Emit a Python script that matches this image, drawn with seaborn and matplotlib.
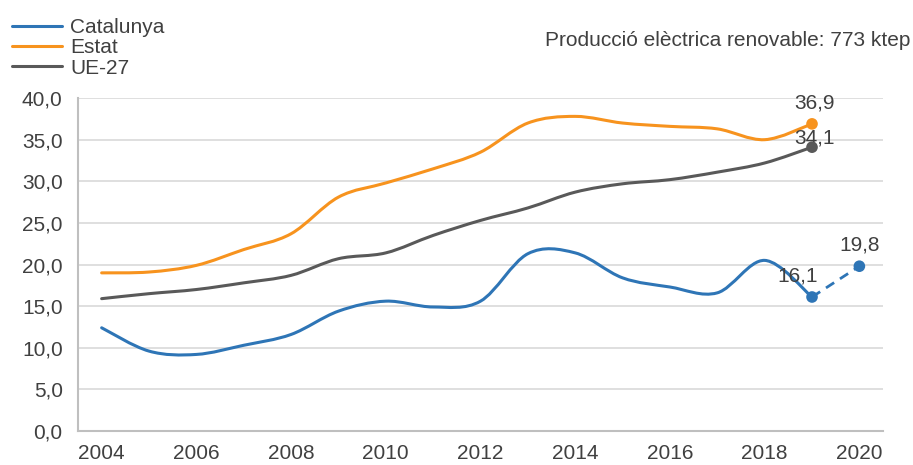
import numpy as np
import pandas as pd
import seaborn as sns
import matplotlib.pyplot as plt
from matplotlib.path import Path
from matplotlib.patches import PathPatch
from matplotlib.lines import Line2D

OUT_PATH = 'out.png'

years = list(range(2004, 2020))
catalunya = [12.4, 9.6, 9.2, 10.3, 11.6, 14.4, 15.6, 14.9, 15.6, 21.3, 21.4, 18.4, 17.3, 16.6, 20.5, 16.1]
estat = [19.0, 19.1, 19.9, 21.8, 23.7, 28.1, 29.8, 31.5, 33.5, 37.0, 37.8, 37.0, 36.6, 36.3, 35.0, 36.9]
ue27 = [15.9, 16.5, 17.0, 17.8, 18.7, 20.7, 21.4, 23.5, 25.3, 26.8, 28.7, 29.7, 30.2, 31.1, 32.2, 34.1]
cat_proj_years = [2019, 2020]
cat_proj = [16.1, 19.8]

series_names = ['Catalunya', 'Estat', 'UE-27']
colors = {'Catalunya': '#2E75B6', 'Estat': '#F7931E', 'UE-27': '#595959'}
subtitle = 'Producció elèctrica renovable: 773 ktep'

TEXT = '#404040'
FS = 15


def smooth_path(x, y):
    # Bezier (Catmull-Rom) como el suavizado de Excel
    x = np.asarray(x, float)
    y = np.asarray(y, float)
    verts = [(x[0], y[0])]
    codes = [Path.MOVETO]
    n = len(x)
    for i in range(n - 1):
        i0 = max(i - 1, 0)
        i3 = min(i + 2, n - 1)
        c1 = (x[i] + (x[i + 1] - x[i0]) / 6, y[i] + (y[i + 1] - y[i0]) / 6)
        c2 = (x[i + 1] - (x[i3] - x[i]) / 6, y[i + 1] - (y[i3] - y[i]) / 6)
        verts += [c1, c2, (x[i + 1], y[i + 1])]
        codes += [Path.CURVE4] * 3
    return Path(verts, codes)


def fmt(v):
    return f'{v:.1f}'.replace('.', ',')


def main():
    sns.set_theme(style='white')
    plt.rcParams['font.family'] = ['Liberation Sans', 'DejaVu Sans']

    df = pd.DataFrame({'any': years, 'Catalunya': catalunya, 'Estat': estat, 'UE-27': ue27})
    long = df.melt(id_vars='any', var_name='serie', value_name='valor')

    fig = plt.figure(figsize=(9.13, 4.65), dpi=100)
    ax = fig.add_axes([0.0854, 0.0731, 0.8818, 0.7160])

    for name in series_names:
        sub = long[long['serie'] == name]
        patch = PathPatch(smooth_path(sub['any'], sub['valor']), facecolor='none',
                          edgecolor=colors[name], lw=2.2, capstyle='round', zorder=3)
        ax.add_patch(patch)

    # tramo previsto Catalunya
    sns.lineplot(x=cat_proj_years, y=cat_proj, ax=ax, color=colors['Catalunya'],
                 lw=2.0, linestyle=(0, (3.5, 2.5)), zorder=3)

    last = long[long['any'] == years[-1]]
    pts = pd.concat([last, pd.DataFrame({'any': [cat_proj_years[-1]], 'serie': ['Catalunya'],
                                         'valor': [cat_proj[-1]]})])
    sns.scatterplot(data=pts, x='any', y='valor', hue='serie', palette=colors, s=70,
                    edgecolor='none', legend=False, ax=ax, zorder=4)

    ax.text(years[-1] + 0.05, estat[-1] + 1.4, fmt(estat[-1]), ha='center', va='bottom',
            fontsize=FS, color=TEXT)
    ax.text(years[-1] + 0.05, ue27[-1] + 0.0, fmt(ue27[-1]), ha='center', va='bottom',
            fontsize=FS, color=TEXT)
    ax.text(years[-1] - 0.3, catalunya[-1] + 1.4, fmt(catalunya[-1]), ha='center', va='bottom',
            fontsize=FS, color=TEXT)
    ax.text(cat_proj_years[-1], cat_proj[-1] + 1.4, fmt(cat_proj[-1]), ha='center', va='bottom',
            fontsize=FS, color=TEXT)

    ax.set_xlim(2003.5, 2020.5)
    ax.set_ylim(0, 40)
    ax.set_yticks(np.arange(0, 41, 5))
    ax.set_yticklabels([fmt(v) for v in np.arange(0, 41, 5)])
    ax.set_xticks(range(2004, 2021, 2))
    ax.tick_params(axis='both', labelsize=FS, colors=TEXT, length=0)
    ax.tick_params(axis='y', pad=11)
    ax.tick_params(axis='x', pad=9)
    ax.set_xlabel('')
    ax.set_ylabel('')
    ax.grid(axis='y', color='#d9d9d9', lw=1.2)
    ax.set_axisbelow(True)
    for s in ['top', 'right']:
        ax.spines[s].set_visible(False)
    for s in ['left', 'bottom']:
        ax.spines[s].set_color('#bfbfbf')
        ax.spines[s].set_linewidth(1.5)

    handles = [Line2D([0], [0], color=colors[n], lw=2.2) for n in series_names]
    fig.legend(handles, series_names, loc='upper left', bbox_to_anchor=(0.004, 0.979),
               frameon=False, fontsize=FS, handlelength=2.4, handletextpad=0.4,
               labelspacing=0.06, borderaxespad=0, labelcolor=TEXT)

    fig.text(0.997, 0.912, subtitle, ha='right', va='center', fontsize=FS, color=TEXT)

    fig.savefig(OUT_PATH, dpi=100)


if __name__ == '__main__':
    main()
